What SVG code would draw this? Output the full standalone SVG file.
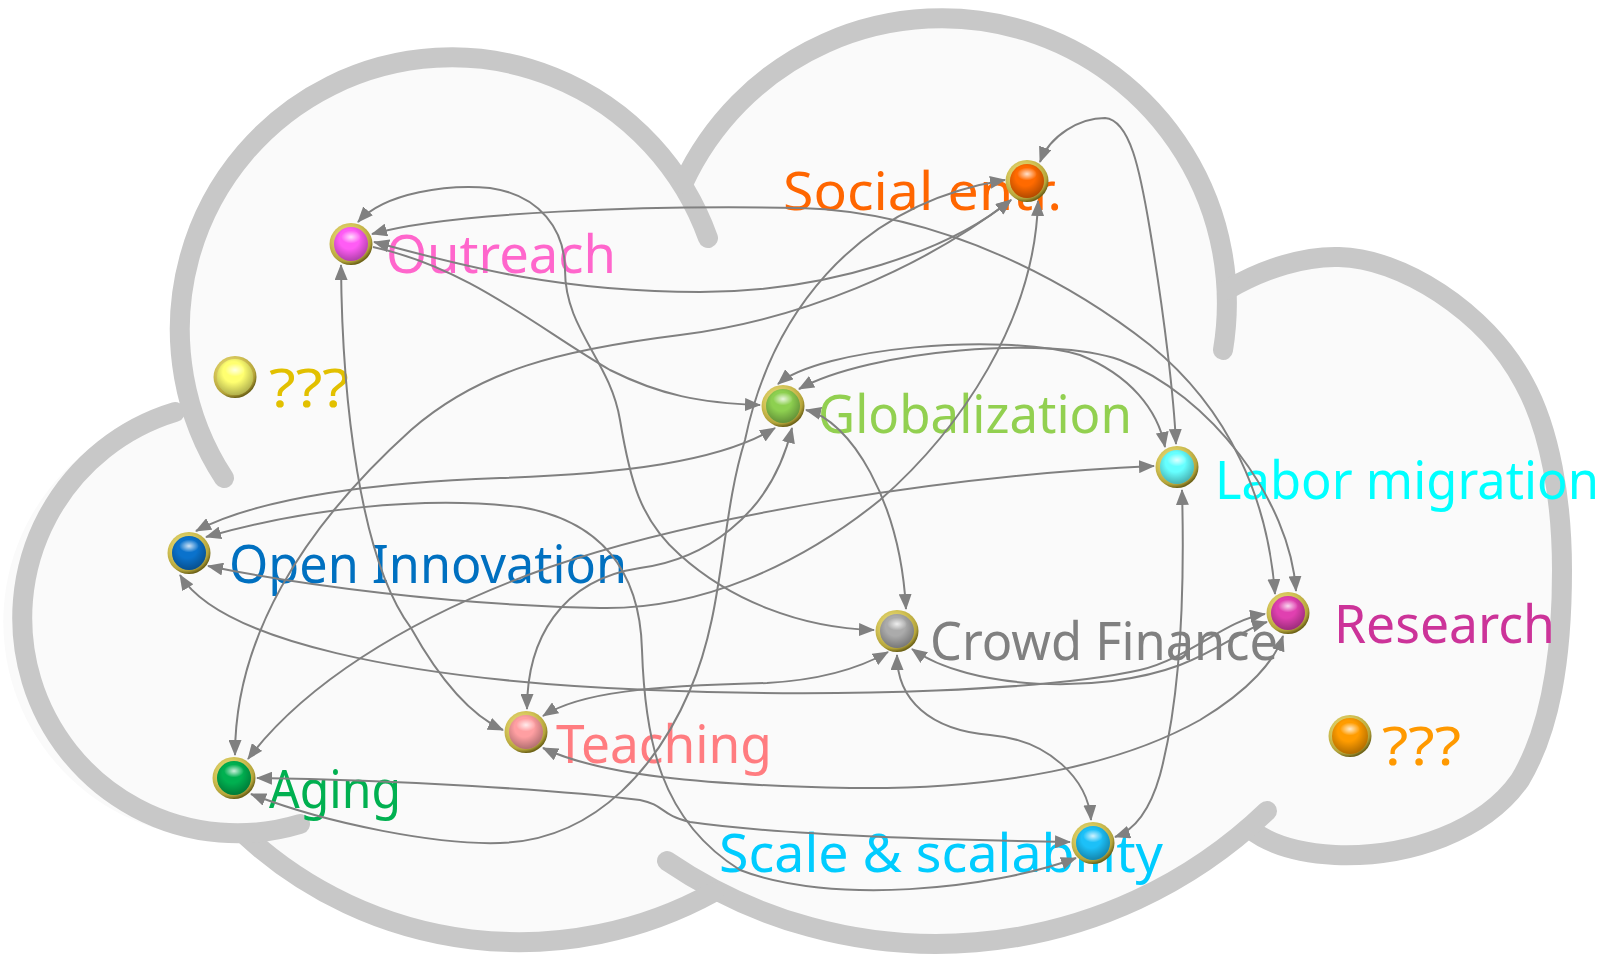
<svg xmlns="http://www.w3.org/2000/svg" width="1610" height="957" viewBox="0 0 1610 957">
<defs>
<style>
.cl{fill:none;stroke:#C8C8C8;stroke-width:20;stroke-linecap:round;stroke-linejoin:round}
.cf{fill:#FAFAFA;stroke:none}
.cn{fill:none;stroke:#808080;stroke-width:2;marker-start:url(#ah);marker-end:url(#ah)}
.one{marker-start:none}
.lb{font-family:"Noto Sans","DejaVu Sans",sans-serif;font-size:52px}
.ring{fill:url(#ringG)}
.sh{fill:url(#shadeG)}
.hl{fill:url(#hlG)}
</style>
<marker id="ah" viewBox="0 0 16 13" refX="15" refY="6.5" markerWidth="16" markerHeight="13" markerUnits="userSpaceOnUse" orient="auto-start-reverse">
<path d="M0,0 L16,6.5 L0,13 z" fill="#808080"/>
</marker>
<radialGradient id="ringG" cx="0.42" cy="0.38" r="0.62">
<stop offset="0" stop-color="#F6EC9A"/>
<stop offset="0.6" stop-color="#D2C255"/>
<stop offset="0.86" stop-color="#B4A43A"/>
<stop offset="1" stop-color="#6E6318"/>
</radialGradient>
<radialGradient id="shadeG" cx="0.45" cy="0.36" r="0.64">
<stop offset="0.45" stop-color="#000" stop-opacity="0"/>
<stop offset="1" stop-color="#000" stop-opacity="0.3"/>
</radialGradient>
<radialGradient id="hlG" cx="0.5" cy="0.5" r="0.5">
<stop offset="0" stop-color="#fff" stop-opacity="0.8"/>
<stop offset="1" stop-color="#fff" stop-opacity="0"/>
</radialGradient>
</defs>
<rect width="1610" height="957" fill="#FFFFFF"/>
<g id="cloud">
<path class="cf" d="M 192 408 A 272 272 0 0 1 683 184 A 285 285 0 0 1 1227 290 C 1265 268, 1305 256, 1339 257 C 1400 258, 1485 310, 1524 383 C 1550 430, 1562 500, 1562 570 C 1562 660, 1550 730, 1520 780 C 1485 830, 1410 858, 1335 855 C 1300 853, 1270 845, 1250 829 A 478 478 0 0 1 714 892 A 404 404 0 0 1 246 836 A 215 215 0 0 1 192 408 Z"/>
<path class="cl" d="M 224 478 A 272 272 0 1 1 708 238"/>
<path class="cl" d="M 683 184 A 285 285 0 0 1 1223 350"/>
<path class="cl" d="M 1227 290 C 1265 268, 1305 256, 1339 257 C 1400 258, 1485 310, 1524 383 C 1550 430, 1562 500, 1562 570 C 1562 660, 1550 730, 1520 780 C 1485 830, 1410 858, 1335 855 C 1300 853, 1270 845, 1250 829"/>
<path class="cl" d="M 1267 811 A 478 478 0 0 1 667 861"/>
<path class="cl" d="M 246 836 A 404 404 0 0 0 714 892"/>
<path class="cl" d="M 175 412 A 215 215 0 1 0 300 824"/>
</g>
<g id="node-outreach">
<text class="lb" x="386" y="273" textLength="230" lengthAdjust="spacingAndGlyphs" fill="#FF66CC">Outreach</text>
<g transform="translate(351 244)"><ellipse class="ring" rx="21.5" ry="21"/><circle r="17" fill="#FF5CF5"/><circle class="sh" r="17"/><ellipse class="hl" cy="-7" rx="10" ry="6.5"/></g>
</g>
<g id="node-unknown-yellow">
<text class="lb" x="269" y="407" textLength="80" lengthAdjust="spacingAndGlyphs" fill="#E2C000">???</text>
<g transform="translate(235 377)"><ellipse class="ring" rx="21.5" ry="21"/><circle r="18" fill="#FFFF70"/><circle class="sh" r="18"/><ellipse class="hl" cy="-7" rx="10" ry="6.5"/></g>
</g>
<g id="node-social">
<text class="lb" x="783" y="210" textLength="279" lengthAdjust="spacingAndGlyphs" fill="#FF6600">Social entr.</text>
<g transform="translate(1027 181)"><ellipse class="ring" rx="21.5" ry="21"/><circle r="17" fill="#FF6A00"/><circle class="sh" r="17"/><ellipse class="hl" cy="-7" rx="10" ry="6.5"/></g>
</g>
<g id="node-globalization">
<text class="lb" x="818" y="433" textLength="314" lengthAdjust="spacingAndGlyphs" fill="#92D050">Globalization</text>
<g transform="translate(783 406)"><ellipse class="ring" rx="21.5" ry="21"/><circle r="17" fill="#8DD050"/><circle class="sh" r="17"/><ellipse class="hl" cy="-7" rx="10" ry="6.5"/></g>
</g>
<g id="node-labor">
<text class="lb" x="1215" y="499" textLength="384" lengthAdjust="spacingAndGlyphs" fill="#00FFFF">Labor migration</text>
<g transform="translate(1177 467)"><ellipse class="ring" rx="21.5" ry="21"/><circle r="17" fill="#66FFFF"/><circle class="sh" r="17"/><ellipse class="hl" cy="-7" rx="10" ry="6.5"/></g>
</g>
<g id="node-open-innovation">
<text class="lb" x="229" y="583" textLength="398" lengthAdjust="spacingAndGlyphs" fill="#0070C0">Open Innovation</text>
<g transform="translate(189 553)"><ellipse class="ring" rx="21.5" ry="21"/><circle r="17" fill="#0A72CC"/><circle class="sh" r="17"/><ellipse class="hl" cy="-7" rx="10" ry="6.5"/></g>
</g>
<g id="node-crowd-finance">
<text class="lb" x="930" y="660" textLength="348" lengthAdjust="spacingAndGlyphs" fill="#808080">Crowd Finance</text>
<g transform="translate(897 631)"><ellipse class="ring" rx="21.5" ry="21"/><circle r="17" fill="#ABABAB"/><circle class="sh" r="17"/><ellipse class="hl" cy="-7" rx="10" ry="6.5"/></g>
</g>
<g id="node-research">
<text class="lb" x="1334" y="643" textLength="221" lengthAdjust="spacingAndGlyphs" fill="#CC3399">Research</text>
<g transform="translate(1288 613)"><ellipse class="ring" rx="21.5" ry="21"/><circle r="17" fill="#E040B0"/><circle class="sh" r="17"/><ellipse class="hl" cy="-7" rx="10" ry="6.5"/></g>
</g>
<g id="node-teaching">
<text class="lb" x="556" y="763" textLength="216" lengthAdjust="spacingAndGlyphs" fill="#FF7C80">Teaching</text>
<g transform="translate(526 732)"><ellipse class="ring" rx="21.5" ry="21"/><circle r="17" fill="#FF9FA2"/><circle class="sh" r="17"/><ellipse class="hl" cy="-7" rx="10" ry="6.5"/></g>
</g>
<g id="node-aging">
<text class="lb" x="269" y="808" textLength="132" lengthAdjust="spacingAndGlyphs" fill="#00B050">Aging</text>
<g transform="translate(234 778)"><ellipse class="ring" rx="21.5" ry="21"/><circle r="17" fill="#00B050"/><circle class="sh" r="17"/><ellipse class="hl" cy="-7" rx="10" ry="6.5"/></g>
</g>
<g id="node-unknown-orange">
<text class="lb" x="1382" y="765" textLength="79" lengthAdjust="spacingAndGlyphs" fill="#FF9900">???</text>
<g transform="translate(1350 736)"><ellipse class="ring" rx="21.5" ry="21"/><circle r="18" fill="#FF9C00"/><circle class="sh" r="18"/><ellipse class="hl" cy="-7" rx="10" ry="6.5"/></g>
</g>
<g id="node-scale">
<text class="lb" x="719" y="872" textLength="444" lengthAdjust="spacingAndGlyphs" fill="#00CCFF">Scale &amp; scalability</text>
<g transform="translate(1093 843)"><ellipse class="ring" rx="21.5" ry="21"/><circle r="17" fill="#1CC0F8"/><circle class="sh" r="17"/><ellipse class="hl" cy="-7" rx="10" ry="6.5"/></g>
</g>
<g id="connectors">
<path class="cn" d="M 358 222 C 385 192, 450 184, 490 188 C 540 195, 565 230, 565 270 C 565 330, 610 360, 620 420 C 630 480, 640 520, 680 555 C 730 600, 800 628, 874 630"/>
<path class="cn" d="M 372 234 C 450 212, 650 205, 800 208 C 950 212, 1080 290, 1150 345 C 1230 410, 1268 500, 1275 594"/>
<path class="cn" d="M 374 242 C 450 262, 550 292, 700 292 C 830 292, 950 250, 1011 200"/>
<path class="cn one" d="M 373 247 C 470 268, 540 330, 610 370 C 660 395, 700 403, 760 405"/>
<path class="cn" d="M 341 265 C 342 400, 360 560, 411 628 C 440 680, 470 715, 503 730"/>
<path class="cn" d="M 251 794 C 330 825, 440 845, 500 843 C 600 840, 660 760, 690 690 C 725 610, 720 520, 745 440 C 770 320, 850 205, 1005 180"/>
<path class="cn" d="M 235 755 C 235 640, 300 530, 411 430 C 480 370, 560 350, 680 335 C 800 320, 920 270, 1011 200"/>
<path class="cn" d="M 208 566 C 300 585, 450 605, 600 608 C 700 610, 800 565, 880 500 C 960 430, 1035 320, 1038 201"/>
<path class="cn" d="M 1040 162 C 1050 135, 1080 118, 1105 118 C 1130 120, 1140 170, 1150 230 C 1165 320, 1174 400, 1176 444"/>
<path class="cn" d="M 778 384 C 820 348, 1000 332, 1080 355 C 1130 375, 1158 410, 1165 447"/>
<path class="cn" d="M 799 389 C 870 350, 1050 335, 1120 360 C 1210 395, 1290 500, 1296 591"/>
<path class="cn" d="M 806 410 C 850 420, 900 500, 906 609"/>
<path class="cn" d="M 196 531 C 260 497, 380 482, 500 478 C 620 474, 720 462, 775 428"/>
<path class="cn" d="M 248 759 C 300 690, 400 620, 550 567 C 700 515, 950 475, 1154 466"/>
<path class="cn" d="M 527 709 C 527 640, 560 580, 640 568 C 700 560, 770 520, 792 428"/>
<path class="cn" d="M 543 716 C 580 692, 650 686, 767 683 C 820 680, 860 668, 888 652"/>
<path class="cn" d="M 180 575 C 220 640, 400 680, 650 690 C 850 698, 1050 690, 1140 670 C 1190 658, 1225 620, 1265 614"/>
<path class="cn" d="M 543 748 C 600 775, 700 785, 850 788 C 1000 790, 1120 765, 1200 720 C 1250 690, 1275 660, 1283 636"/>
<path class="cn" d="M 912 649 C 970 690, 1100 695, 1180 665 C 1220 650, 1245 628, 1267 622"/>
<path class="cn" d="M 1182 490 C 1185 600, 1180 700, 1160 775 C 1150 810, 1135 830, 1115 837"/>
<path class="cn" d="M 897 655 C 897 700, 930 730, 990 735 C 1050 740, 1088 780, 1091 820"/>
<path class="cn" d="M 206 537 C 300 510, 420 495, 520 507 C 600 520, 640 570, 642 650 C 645 740, 660 820, 740 870 C 830 905, 990 890, 1076 858"/>
<path class="cn" d="M 257 778 C 400 780, 560 790, 640 800 C 665 805, 660 815, 690 822 C 780 835, 950 840, 1070 842"/>
</g>
</svg>
